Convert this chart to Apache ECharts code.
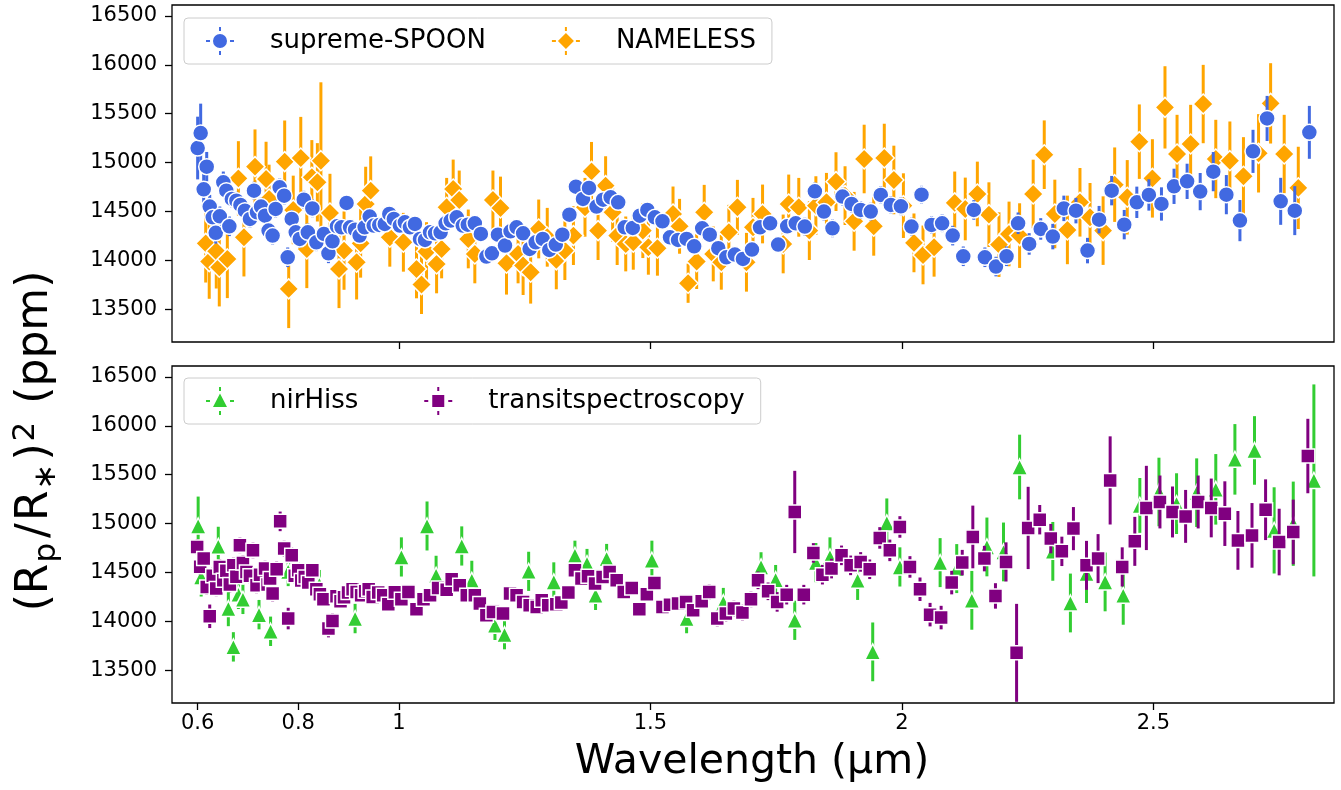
<!DOCTYPE html>
<html>
<head>
<meta charset="utf-8">
<script src="https://cdn.jsdelivr.net/npm/echarts@6/dist/echarts.min.js"></script>
<style>
html,body{margin:0;padding:0;background:#fff;}
#chart{width:1341px;height:790px;}
</style>
</head>
<body>
<div id="chart"></div>
<script>
// ---------- DATA ----------
const xTickValues = [0.6, 0.8, 1, 1.5, 2, 2.5];
const xTopTickValues = [1, 1.5, 2, 2.5];
const yTickValues = [13500, 14000, 14500, 15000, 15500, 16000, 16500];

const spoonWl = [0.600,0.606,0.612,0.618,0.624,0.630,0.636,0.644,0.651,0.657,0.663,0.668,0.677,0.685,0.694,0.704,0.712,0.718,0.726,0.734,0.741,0.749,0.755,0.763,0.772,0.779,0.787,0.795,0.803,0.811,0.819,0.828,0.836,0.851,0.860,0.868,0.877,0.886,0.896,0.903,0.913,0.922,0.932,0.942,0.950,0.961,0.972,0.981,0.990,1.002,1.012,1.022,1.032,1.042,1.052,1.062,1.072,1.083,1.093,1.103,1.115,1.127,1.137,1.151,1.163,1.174,1.185,1.197,1.211,1.222,1.234,1.247,1.260,1.272,1.286,1.299,1.312,1.325,1.339,1.352,1.366,1.378,1.393,1.406,1.421,1.436,1.449,1.465,1.479,1.494,1.509,1.524,1.539,1.555,1.572,1.587,1.603,1.618,1.635,1.651,1.668,1.684,1.702,1.718,1.738,1.754,1.772,1.789,1.807,1.827,1.845,1.862,1.882,1.900,1.918,1.938,1.958,1.978,1.998,2.019,2.039,2.059,2.080,2.101,2.122,2.143,2.165,2.187,2.208,2.231,2.253,2.276,2.300,2.322,2.346,2.369,2.392,2.417,2.442,2.467,2.491,2.516,2.541,2.567,2.593,2.619,2.645,2.672,2.698,2.726,2.753,2.781,2.810];
const spoonDepth = [15150,15303,14728,14960,14552,14443,14284,14453,14800,14715,14351,14630,14613,14569,14511,14426,14715,14494,14552,14460,14307,14256,14528,14749,14664,14035,14426,14290,14222,14623,14290,14534,14188,14273,14075,14198,14351,14341,14590,14341,14317,14256,14341,14450,14358,14365,14375,14477,14426,14358,14392,14341,14375,14222,14212,14290,14279,14290,14382,14409,14443,14358,14368,14382,14273,14042,14075,14266,14154,14300,14341,14279,14120,14188,14222,14110,14164,14266,14470,14756,14630,14743,14552,14623,14647,14596,14341,14334,14460,14518,14443,14402,14239,14212,14222,14147,14330,14266,14127,14035,14062,14018,14113,14341,14382,14164,14351,14382,14348,14708,14501,14330,14654,14579,14518,14501,14671,14569,14555,14348,14674,14365,14382,14256,14045,14518,14035,13940,14045,14382,14171,14324,14246,14534,14511,14103,14419,14715,14368,14596,14671,14579,14759,14810,14705,14909,14674,14409,15116,15452,14606,14511,15310];
const spoonErr = [320,300,160,150,120,110,110,100,110,100,100,90,90,90,90,90,90,90,90,90,90,90,90,90,90,100,90,90,90,90,90,90,90,80,100,80,80,80,80,80,70,70,70,70,70,70,70,70,70,70,70,70,70,70,70,70,70,70,70,70,70,70,70,70,70,70,70,70,70,70,70,70,70,70,70,70,70,70,70,70,70,70,70,70,70,70,70,70,70,70,70,70,70,70,70,70,70,70,70,70,70,70,80,80,80,80,80,80,90,90,90,90,90,90,90,90,90,90,90,90,90,90,90,100,100,100,100,100,100,110,110,110,130,130,130,130,140,150,150,160,160,170,180,180,190,200,200,210,220,230,240,250,270];

const namelessWl = [0.616,0.623,0.637,0.643,0.659,0.681,0.692,0.714,0.736,0.742,0.773,0.781,0.790,0.805,0.817,0.827,0.838,0.845,0.863,0.881,0.891,0.916,0.924,0.934,0.944,0.982,1.009,1.035,1.045,1.055,1.075,1.085,1.095,1.108,1.120,1.138,1.151,1.187,1.202,1.214,1.237,1.247,1.262,1.278,1.295,1.313,1.330,1.347,1.370,1.383,1.396,1.411,1.425,1.434,1.451,1.466,1.485,1.496,1.514,1.545,1.558,1.575,1.592,1.607,1.625,1.641,1.656,1.673,1.691,1.704,1.723,1.764,1.775,1.795,1.816,1.829,1.850,1.869,1.887,1.905,1.925,1.944,1.965,1.984,2.003,2.024,2.042,2.064,2.105,2.126,2.150,2.173,2.193,2.213,2.234,2.261,2.283,2.304,2.329,2.354,2.374,2.400,2.423,2.448,2.472,2.498,2.523,2.547,2.574,2.599,2.624,2.652,2.679,2.709,2.733,2.760,2.788];
const namelessDepth = [14177,13991,14096,13933,14018,14840,14239,14960,14834,14630,15011,13712,14518,15048,14120,14851,14800,15021,14487,13916,14103,13984,14177,14579,14715,14239,14188,13916,13756,14093,13967,14120,14545,14732,14620,14222,14069,14620,14538,13974,14069,13950,13882,14324,14239,14008,14103,14256,14545,14912,14307,14766,14494,14256,14171,14188,14307,14137,14127,14477,14351,13770,13991,14494,14069,13984,14290,14545,13984,14341,14477,14171,14579,14545,14307,14562,14596,14807,14664,14402,15038,14351,15048,14824,14562,14182,14059,14137,14590,14528,14681,14470,14164,14273,14256,14681,15082,14477,14314,14596,14443,14307,14776,14647,15215,14840,15565,15089,15191,15599,15038,15021,14861,15096,15606,15089,14743];
const namelessErr = [400,380,380,400,400,380,400,380,380,350,420,400,350,420,400,380,400,800,400,400,400,380,350,380,350,300,300,300,300,300,300,300,300,300,300,300,300,300,320,320,300,300,320,300,300,300,300,300,300,300,300,300,300,300,280,280,280,280,280,280,280,200,280,280,280,280,280,280,300,300,300,300,300,300,300,300,300,300,300,300,350,300,350,350,330,300,300,300,320,320,330,330,330,330,330,350,350,350,350,350,350,350,380,380,380,400,420,400,400,400,400,400,400,400,410,400,420];

const nirhissWl = [0.601,0.607,0.641,0.661,0.671,0.681,0.690,0.722,0.745,0.780,0.842,0.913,1.005,1.056,1.074,1.125,1.145,1.191,1.210,1.258,1.308,1.350,1.374,1.391,1.413,1.503,1.572,1.645,1.720,1.749,1.787,1.829,1.857,1.912,1.942,1.970,1.996,2.076,2.109,2.139,2.169,2.202,2.234,2.300,2.335,2.367,2.404,2.440,2.473,2.511,2.546,2.586,2.624,2.662,2.701,2.740,2.778,2.819];
const nirhissDepth = [14977,14457,14769,14134,13743,14279,14228,14072,13902,14513,14378,14032,14661,14977,14473,14773,14422,13963,13868,14514,14406,14677,14593,14269,14644,14627,14032,14195,14559,14429,14014,14603,14661,14422,13692,15008,14559,14603,14542,14218,14763,14712,15579,14718,14191,14491,14406,14269,15187,15324,15205,15317,15351,15657,15748,14932,15000,15442];
const nirhissErr = [300,200,200,180,150,150,150,150,150,150,150,150,200,250,200,200,200,150,150,200,200,150,150,150,150,200,150,150,150,150,200,200,200,200,300,250,200,250,250,300,300,300,330,300,300,300,300,300,280,350,310,350,360,360,350,440,430,980];

const tsWl = [0.599,0.605,0.612,0.618,0.624,0.630,0.637,0.644,0.651,0.657,0.664,0.671,0.677,0.684,0.690,0.697,0.704,0.710,0.717,0.724,0.734,0.739,0.744,0.749,0.757,0.764,0.772,0.780,0.787,0.793,0.800,0.806,0.813,0.820,0.828,0.836,0.843,0.850,0.860,0.868,0.876,0.884,0.891,0.899,0.908,0.916,0.925,0.933,0.940,0.948,0.959,0.969,0.979,0.992,1.005,1.019,1.035,1.049,1.062,1.078,1.095,1.105,1.121,1.135,1.151,1.161,1.174,1.187,1.207,1.221,1.234,1.247,1.260,1.274,1.284,1.297,1.313,1.323,1.337,1.350,1.363,1.376,1.390,1.405,1.419,1.433,1.447,1.463,1.478,1.493,1.508,1.524,1.539,1.555,1.571,1.585,1.602,1.617,1.633,1.650,1.666,1.683,1.700,1.714,1.734,1.752,1.771,1.787,1.805,1.824,1.842,1.860,1.880,1.898,1.918,1.936,1.956,1.976,1.996,2.016,2.036,2.056,2.078,2.099,2.120,2.141,2.164,2.186,2.207,2.228,2.251,2.274,2.296,2.318,2.341,2.367,2.390,2.414,2.438,2.463,2.486,2.513,2.538,2.564,2.589,2.615,2.642,2.668,2.696,2.723,2.750,2.778,2.807];
const tsDepth = [14763,14560,14644,14355,14055,14470,14340,14559,14422,14520,14380,14575,14460,14780,14600,14508,14470,14728,14371,14480,14542,14380,14440,14287,14535,15024,14746,14032,14677,14470,14525,14420,14457,14400,14525,14330,14280,14228,13930,14008,14260,14208,14250,14297,14330,14304,14270,14310,14330,14253,14297,14270,14177,14300,14228,14304,14126,14228,14269,14344,14327,14433,14371,14269,14269,14185,14065,14100,14083,14287,14269,14202,14167,14150,14218,14167,14177,14195,14297,14525,14440,14463,14389,14457,14508,14422,14304,14344,14126,14279,14395,14150,14174,14185,14202,14117,14208,14304,14032,14083,14134,14093,14228,14422,14310,14202,14276,15120,14276,14702,14480,14542,14677,14575,14610,14535,14855,14728,14967,14559,14331,14072,14042,14399,14603,14865,14644,14263,14610,13682,14957,15041,14848,14718,14950,14575,14644,15442,14559,14820,15161,15222,15120,15075,15222,15161,15103,14830,14881,15143,14813,14916,15691];
const tsErr = [80,80,80,80,120,80,80,80,80,80,80,80,80,80,80,80,80,80,80,80,80,80,80,80,80,100,80,110,80,80,80,70,70,70,70,70,70,70,90,80,60,60,60,60,60,60,60,60,60,60,60,60,60,60,60,60,60,60,60,60,60,60,60,60,60,60,60,60,60,60,60,60,60,60,60,60,60,60,60,60,60,60,60,60,60,60,60,60,60,60,70,60,60,60,60,60,70,80,80,80,80,80,80,90,90,100,100,420,100,100,100,100,100,100,100,100,110,110,110,110,120,120,120,120,130,320,130,130,200,500,420,150,150,150,220,250,250,450,200,250,430,270,260,270,270,300,330,300,330,310,340,330,380];

// ---------- STYLE ----------
const FONT = 'DejaVu Sans';
const C_SPOON = '#4169E1', C_NAMELESS = '#FFA500', C_NIRHISS = '#32CD32', C_TS = '#800080';

const dash = 'M13,0 L15,0 L15,4 L13,4 Z M13,24 L15,24 L15,28 L13,28 Z M0,13 L4,13 L4,15 L0,15 Z M24,13 L28,13 L28,15 L24,15 Z ';
const iconCircle = 'path://' + dash + 'M7,14 A7,7 0 1,0 21,14 A7,7 0 1,0 7,14 Z';
const iconDiamond = 'path://' + dash + 'M14,6 L22,14 L14,22 L6,14 Z';
const iconTriangle = 'path://' + dash + 'M14,6.5 L21,20 L7,20 Z';
const iconSquare = 'path://' + dash + 'M8,8 L20,8 L20,20 L8,20 Z';

function zip(wl, d, e) { return wl.map((w, i) => [w, d[i], e[i]]); }

function errSeries(name, data, color, axisIdx, z) {
  return {
    type: 'custom', name: name, xAxisIndex: axisIdx, yAxisIndex: axisIdx, z: z,
    silent: true,
    data: data,
    encode: { x: 0, y: 1 },
    renderItem: function (params, api) {
      const x = api.value(0), y = api.value(1), e = api.value(2);
      const p1 = api.coord([x, y - e]);
      const p2 = api.coord([x, y + e]);
      const cs = params.coordSys;
      const top = cs.y, bot = cs.y + cs.height;
      const y1 = Math.min(Math.max(p1[1], top), bot);
      const y2 = Math.min(Math.max(p2[1], top), bot);
      return {
        type: 'line',
        shape: { x1: p1[0], y1: y1, x2: p2[0], y2: y2 },
        style: { stroke: color, lineWidth: 3 }
      };
    }
  };
}

function markerSeries(name, data, color, symbol, size, axisIdx, z) {
  return {
    type: 'scatter', name: name, xAxisIndex: axisIdx, yAxisIndex: axisIdx, z: z,
    data: data.map(d => [d[0], d[1]]),
    symbol: symbol, symbolSize: size,
    itemStyle: { color: color, borderColor: '#ffffff', borderWidth: 1.5, opacity: 1 },
    emphasis: { disabled: true },
    clip: true
  };
}

const spoonData = zip(spoonWl, spoonDepth, spoonErr);
const namelessData = zip(namelessWl, namelessDepth, namelessErr);
const nirhissData = zip(nirhissWl, nirhissDepth, nirhissErr);
const tsData = zip(tsWl, tsDepth, tsErr);

const X_MIN = 0.549, X_MAX = 2.859, Y_MIN = 13170, Y_MAX = 16610;

function xAxisCfg(idx, showLabels) {
  return {
    type: 'value', gridIndex: idx, min: X_MIN, max: X_MAX,
    splitLine: { show: false },
    axisLine: { show: false },
    axisTick: { show: true, inside: false, length: 7, lineStyle: { color: '#000', width: 1.3 },
      customValues: showLabels ? xTickValues : xTopTickValues },
    axisLabel: { show: showLabels, customValues: xTickValues, margin: 10,
      color: '#000', fontFamily: FONT, fontSize: 21,
      formatter: v => String(v) }
  };
}
function yAxisCfg(idx) {
  return {
    type: 'value', gridIndex: idx, min: Y_MIN, max: Y_MAX,
    splitLine: { show: false },
    axisLine: { show: false },
    axisTick: { show: true, length: 7, lineStyle: { color: '#000', width: 1.3 }, customValues: yTickValues },
    axisLabel: { customValues: yTickValues, margin: 15, color: '#000', fontFamily: FONT, fontSize: 21,
      formatter: v => String(v) }
  };
}

const legendBase = {
  orient: 'horizontal', left: 184, itemWidth: 28, itemHeight: 28, itemGap: 66,
  padding: [9, 16, 9, 22],
  backgroundColor: 'rgba(255,255,255,0.8)', borderColor: '#cccccc', borderWidth: 1, borderRadius: 4,
  textStyle: { fontFamily: FONT, fontSize: 26, color: '#000', padding: [0, 0, 0, 31] },
  itemStyle: { borderWidth: 0 },
  selectedMode: false
};

const option = {
  animation: false,
  textStyle: { fontFamily: FONT },
  grid: [
    { left: 172, top: 5, width: 1162, height: 337, show: true, borderColor: '#000', borderWidth: 1.3, backgroundColor: 'transparent' },
    { left: 172, top: 366, width: 1162, height: 337, show: true, borderColor: '#000', borderWidth: 1.3, backgroundColor: 'transparent' }
  ],
  xAxis: [xAxisCfg(0, false), xAxisCfg(1, true)],
  yAxis: [yAxisCfg(0), yAxisCfg(1)],
  legend: [
    Object.assign({}, legendBase, { top: 18, data: [
      { name: 'supreme-SPOON', icon: iconCircle },
      { name: 'NAMELESS', icon: iconDiamond }] }),
    Object.assign({}, legendBase, { top: 378, data: [
      { name: 'nirHiss', icon: iconTriangle },
      { name: 'transitspectroscopy', icon: iconSquare }] })
  ],
  graphic: [
    { type: 'text', x: 752, y: 762, z: 100,
      style: { text: 'Wavelength (µm)', fontFamily: FONT, fontSize: 41, fill: '#000', align: 'center', verticalAlign: 'middle' } },
    { type: 'text', x: 36, y: 441, rotation: Math.PI / 2, z: 100,
      style: {
        text: '{n|(R}{sub|p}{sl|/}{n|R}{sub|∗}{n|)}{sup|2}{n| (ppm)}',
        fontFamily: FONT, fontSize: 44, fill: '#000', align: 'center', verticalAlign: 'middle',
        rich: {
          n: { fontFamily: FONT, fontSize: 44, lineHeight: 52, fill: '#000' },
          sl: { fontFamily: FONT, fontSize: 44, lineHeight: 52, fill: '#000', padding: [0, 2, 0, 2] },
          sub: { fontFamily: FONT, fontSize: 31, lineHeight: 30, verticalAlign: 'bottom', fill: '#000', padding: [0, 3, 0, 1] },
          sup: { fontFamily: FONT, fontSize: 31, lineHeight: 26, verticalAlign: 'top', fill: '#000', padding: [0, 4, 0, 2] }
        }
      } }
  ],
  series: [
    errSeries('NAMELESS-err', namelessData, C_NAMELESS, 0, 2),
    markerSeries('NAMELESS', namelessData, C_NAMELESS, 'diamond', 20, 0, 3),
    errSeries('supreme-SPOON-err', spoonData, C_SPOON, 0, 4),
    markerSeries('supreme-SPOON', spoonData, C_SPOON, 'circle', 16, 0, 5),
    errSeries('nirHiss-err', nirhissData, C_NIRHISS, 1, 2),
    markerSeries('nirHiss', nirhissData, C_NIRHISS, 'triangle', 16, 1, 3),
    errSeries('transitspectroscopy-err', tsData, C_TS, 1, 4),
    markerSeries('transitspectroscopy', tsData, C_TS, 'rect', 14, 1, 5)
  ]
};

const chart = echarts.init(document.getElementById('chart'), null, { renderer: 'canvas' });
chart.setOption(option);
</script>
</body>
</html>
